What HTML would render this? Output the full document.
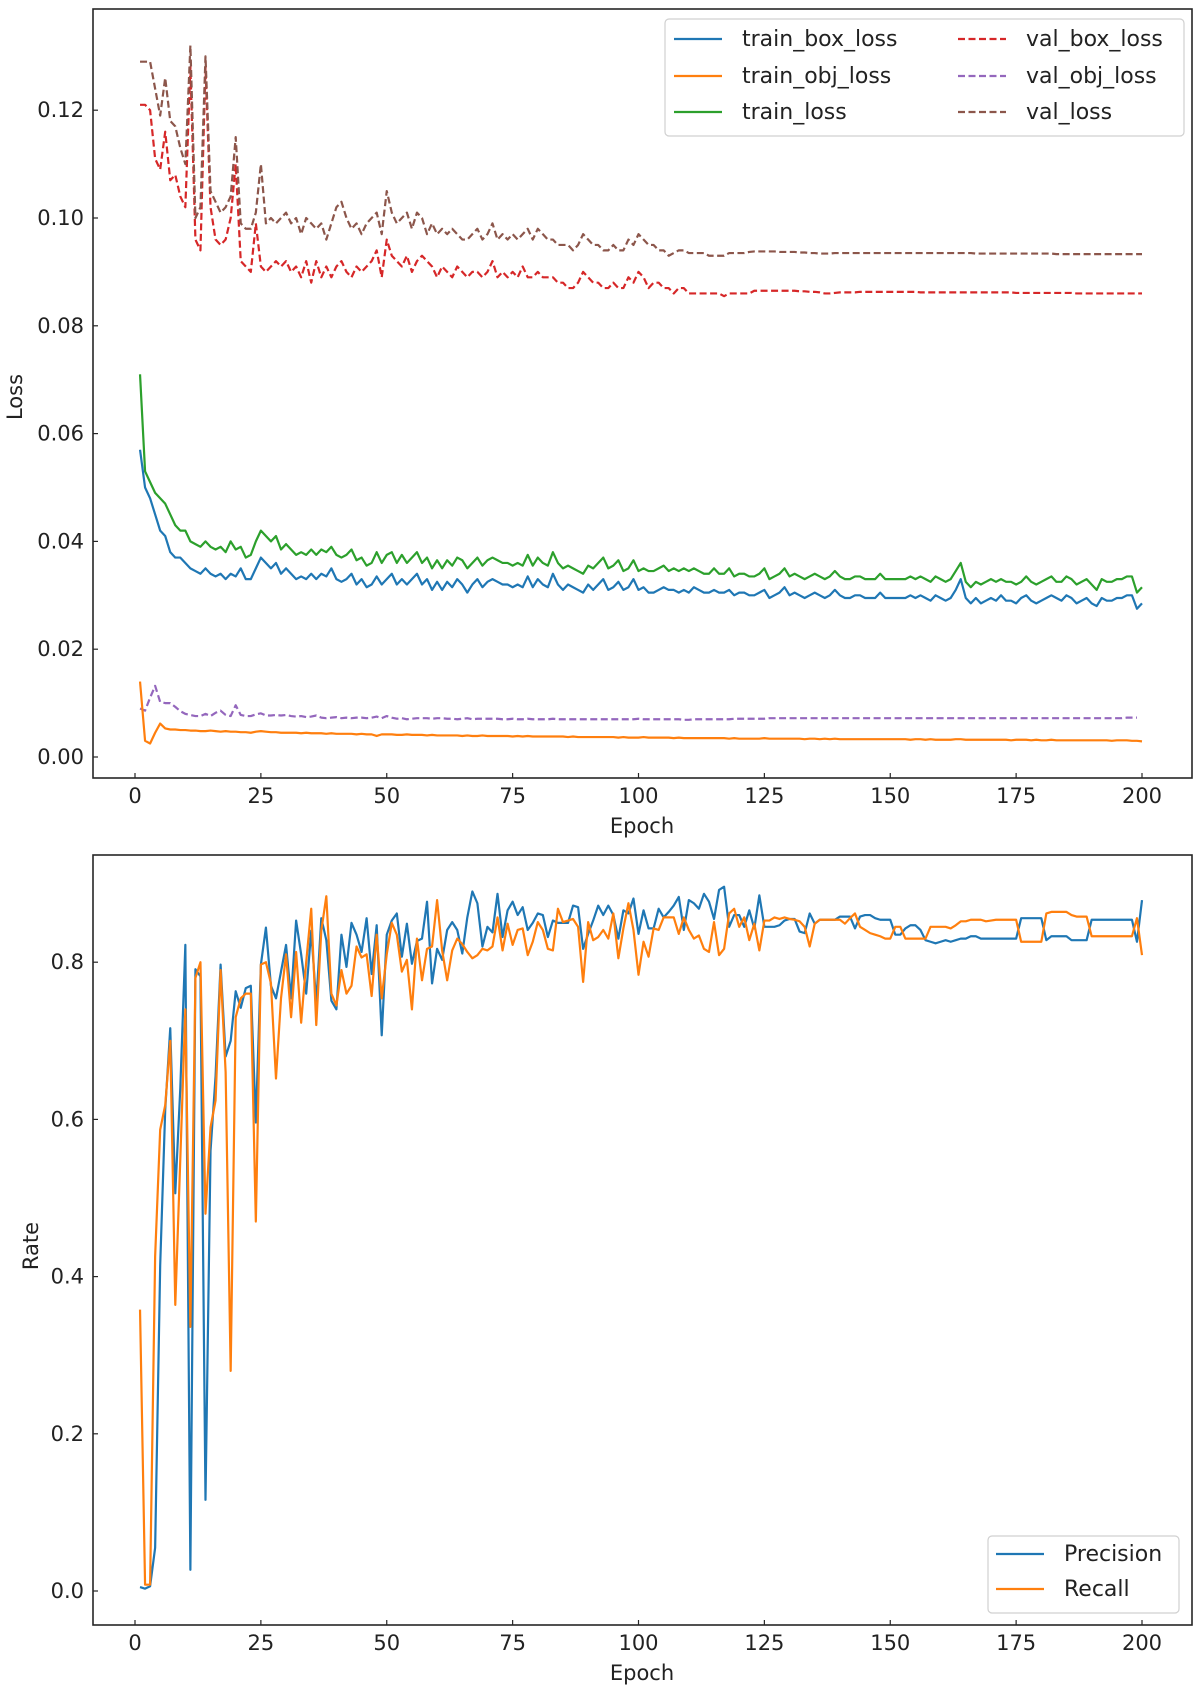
<!DOCTYPE html>
<html><head><meta charset="utf-8"><style>
html,body{margin:0;padding:0;background:#fff}
svg{display:block;font-family:"DejaVu Sans","Liberation Sans",sans-serif}
</style></head><body>
<svg id="chart" width="1200" height="1689" viewBox="0 0 1200 1689" xmlns="http://www.w3.org/2000/svg">
<rect x="0" y="0" width="1200" height="1689" fill="#fff"/>
<g id="topchart"></g>
<g id="botchart"></g>
</svg>
<script>
const epochTicks=[0,25,50,75,100,125,150,175,200];
const lossTicks=[0,20,40,60,80,100,120];
const lossTickLabels=["0.00","0.02","0.04","0.06","0.08","0.10","0.12"];
const rateTicks=[0,0.2,0.4,0.6,0.8];
const rateTickLabels=["0.0","0.2","0.4","0.6","0.8"];
// loss values in thousandths
const trainBox=[57,50,48,45,42,41,38,37,37,36,35,34.5,34,35,34,33.5,34,33,34,33.5,35,33,33,35,37,36,35,36,34,35,34,33,33.5,33,34,33,34,33.5,35,33,32.5,33,34,32,33,31.5,32,33.5,32,33,34,32,33,32,33,34,32,33,31,32.5,31,32.5,31.5,33,32,30.5,32,33,31.5,32.5,33,32.5,32,32,31.5,32,31.5,33.5,31.5,33,32,31.5,34,32,31,32,31.5,31,30.5,32,31,32,33,31,31.5,32.5,31,31.5,33,31,31.5,30.5,30.5,31,31.5,31,31,30.5,31,30.5,31.5,31,30.5,30.5,31,30.5,30.5,31,30,30.5,30.5,30,30,30.5,31,29.5,30,30.5,31.5,30,30.5,30,29.5,30,30.5,30,29.5,30,31,30,29.5,29.5,30,30,29.5,29.5,29.5,30.5,29.5,29.5,29.5,29.5,29.5,30,29.5,30,29.5,29,30,29.5,29,29.5,31,33,29.5,28.5,29.5,28.5,29,29.5,29,30,29,29,28.5,29.5,30,29,28.5,29,29.5,30,29.5,29,30,29.5,28.5,29,29.5,28.5,28,29.5,29,29,29.5,29.5,30,30,27.5,28.5];
const trainObj=[14,3,2.5,4.5,6.2,5.3,5.1,5.1,5.0,5.0,4.9,4.9,4.8,4.8,4.9,4.8,4.7,4.8,4.7,4.7,4.6,4.6,4.5,4.7,4.8,4.7,4.6,4.6,4.5,4.5,4.5,4.5,4.4,4.5,4.4,4.4,4.4,4.3,4.4,4.3,4.3,4.3,4.3,4.2,4.3,4.2,4.2,3.9,4.2,4.2,4.2,4.1,4.1,4.2,4.1,4.1,4.1,4.0,4.1,4.0,4.0,4.0,4.0,4.0,3.9,4.0,3.9,3.9,4.0,3.9,3.9,3.9,3.9,3.9,3.8,3.9,3.8,3.9,3.8,3.8,3.8,3.8,3.8,3.8,3.8,3.7,3.8,3.7,3.7,3.7,3.7,3.7,3.7,3.7,3.7,3.6,3.7,3.6,3.6,3.6,3.7,3.6,3.6,3.6,3.6,3.6,3.5,3.6,3.5,3.5,3.5,3.5,3.5,3.5,3.5,3.5,3.5,3.4,3.5,3.4,3.4,3.4,3.4,3.4,3.5,3.4,3.4,3.4,3.4,3.4,3.4,3.4,3.3,3.4,3.4,3.3,3.4,3.3,3.4,3.3,3.3,3.3,3.3,3.3,3.3,3.3,3.3,3.3,3.3,3.3,3.3,3.3,3.3,3.2,3.3,3.3,3.2,3.3,3.2,3.2,3.2,3.2,3.3,3.3,3.2,3.2,3.2,3.2,3.2,3.2,3.2,3.2,3.2,3.1,3.2,3.2,3.2,3.1,3.2,3.1,3.1,3.2,3.1,3.1,3.1,3.1,3.1,3.1,3.1,3.1,3.1,3.1,3.1,3.0,3.1,3.1,3.1,3.0,3.0,2.9];
const trainLoss=[71,53,51,49,48,47,45,43,42,42,40,39.5,39,40,39,38.5,39,38,40,38.5,39,37,37.5,40,42,41,40,41,38.5,39.5,38.5,37.5,38,37.5,38.5,37.5,38.5,38,39,37.5,37,37.5,38.5,36.5,37,35.5,36,38,36,37.5,38,36,37.5,36,37,38,36,37,35,36.5,35,36.5,35.5,37,36.5,35,36,37,35.5,36.5,37,36.5,36,36,35.5,36,35.5,37.5,35.5,37,36,35.5,38,36,35,35.5,35,34.5,34,35.5,35,36,37,35,35.5,36.5,34.5,35,36.5,34.5,35,34.5,34.5,35,35.5,34.5,35,34.5,35,34.5,35,34.5,34,34,35,34,34,35,33.5,34,34,33.5,33.5,34,35,33,33.5,34,35,33.5,34,33.5,33,33.5,34,33.5,33,33.5,34.5,33.5,33,33,33.5,33.5,33,33,33,34,33,33,33,33,33,33.5,33,33.5,33,32.5,33.5,33,32.5,33,34.5,36,32.5,31.5,32.5,32,32.5,33,32.5,33,32.5,32.5,32,32.5,33.5,32.5,32,32.5,33,33.5,32.5,32.5,33.5,33,32,32.5,33,32,31,33,32.5,32.5,33,33,33.5,33.5,30.5,31.5];
const valBox=[121,121,120,111,109,116,107,108,104,102,128,96,94,128,102,96,95,96,100,110,92,91,90,99,91,90,91,92,91,92,90,91,89,92,88,92,89,91,89,91,92,90,89,91,90,91,92,94,89,96,93,92,91,93,90,92,93,92,91,89,91,90,89,91,90,89,90,90,89,90,92,89,90,89,90,89,91,89,89,90,89,89,89,88,88,87,87,88,90,89,88,88,87,87,88,87,87,89,88,90,89,87,88,88,87,87,86,87,87,86,86,86,86,86,86,86,85.5,86,86,86,86,86,86.5,86.5,86.5,86.5,86.5,86.5,86.5,86.5,86.5,86.4,86.4,86.3,86.3,86.2,86.0,86.0,86.1,86.2,86.2,86.2,86.2,86.3,86.3,86.3,86.3,86.3,86.3,86.3,86.3,86.3,86.3,86.3,86.3,86.2,86.2,86.2,86.2,86.2,86.2,86.2,86.2,86.2,86.2,86.2,86.2,86.2,86.2,86.2,86.2,86.2,86.2,86.2,86.1,86.1,86.1,86.1,86.1,86.1,86.1,86.1,86.1,86.1,86.1,86.1,86.0,86.0,86.0,86.0,86.0,86.0,86.0,86.0,86.0,86.0,86.0,86.0,86.0,86.0];
const valObj=[9,8.6,11,13.2,10.2,10,10,9.3,8.5,8,7.8,7.6,7.6,8,7.6,8.2,8.6,7.8,7.6,9.6,7.8,7.6,7.6,7.9,8.1,7.7,7.7,7.8,7.7,7.8,7.6,7.5,7.6,7.4,7.5,7.7,7.3,7.2,7.3,7.4,7.2,7.3,7.2,7.3,7.3,7.2,7.3,7.5,7.2,7.6,7.3,7.1,7.2,7.0,7.1,7.2,7.2,7.2,7.1,7.2,7.2,7.1,7.1,7.0,7.1,7.2,7.0,7.1,7.1,7.1,7.1,7.1,7.0,7.0,7.1,7.0,7.0,7.1,7.0,7.0,7.0,7.0,7.1,7.0,7.0,7.0,7.0,7.0,7.0,7.0,7.0,7.0,7.0,7.0,7.0,7.0,7.0,7.0,7.0,7.1,7.0,7.0,7.0,7.0,7.0,7.0,7.0,7.0,6.9,6.9,7.0,7.0,7.0,7.0,7.0,7.0,7.0,7.0,7.1,7.1,7.1,7.1,7.1,7.1,7.1,7.2,7.2,7.2,7.2,7.2,7.2,7.2,7.2,7.2,7.2,7.2,7.2,7.2,7.2,7.2,7.2,7.2,7.2,7.2,7.2,7.2,7.2,7.2,7.2,7.2,7.2,7.2,7.2,7.2,7.2,7.2,7.2,7.2,7.2,7.2,7.2,7.2,7.2,7.2,7.2,7.2,7.2,7.2,7.2,7.2,7.2,7.2,7.2,7.2,7.2,7.2,7.2,7.2,7.2,7.2,7.2,7.2,7.2,7.2,7.2,7.2,7.2,7.2,7.2,7.2,7.2,7.2,7.2,7.2,7.2,7.2,7.3,7.3,7.3];
const valLoss=[129,129,129,124,119,126,118,117,113,110,132,100,102,130,105,103,101,102,104,115,99,98,98,101,110,99,100,99,100,101,99,100,97,100,99,98,99,96,99,102,103,100,98,99,97,99,100,101,97,105,101,99,100,101,98,101,100,97,99,97,98,97,98,97,96,96,97,98,96,97,99,96,97,96,97,96,97,98,96,98,97,96,96,95,95,95,94,95,97,96,95,95,94,94,95,94,94,96,95,97,96,95,95,94,94,93,93.5,94,94,93.5,93.5,93.5,93.5,93,93,93,93,93.5,93.5,93.5,93.5,93.7,93.8,93.8,93.8,93.8,93.8,93.7,93.7,93.7,93.7,93.6,93.6,93.5,93.5,93.4,93.4,93.4,93.5,93.5,93.5,93.5,93.5,93.5,93.5,93.5,93.5,93.5,93.5,93.5,93.5,93.5,93.5,93.5,93.5,93.5,93.5,93.5,93.5,93.5,93.5,93.5,93.5,93.5,93.5,93.5,93.4,93.4,93.4,93.4,93.4,93.4,93.4,93.4,93.4,93.4,93.4,93.4,93.4,93.4,93.4,93.4,93.3,93.3,93.3,93.3,93.3,93.3,93.3,93.3,93.3,93.3,93.3,93.3,93.3,93.3,93.3,93.3,93.3,93.3];
const precision=[0.005,0.003,0.006,0.055,0.414,0.612,0.716,0.506,0.64,0.822,0.027,0.791,0.782,0.116,0.56,0.655,0.797,0.68,0.70,0.763,0.742,0.767,0.77,0.596,0.797,0.844,0.77,0.754,0.788,0.822,0.754,0.853,0.81,0.76,0.84,0.748,0.856,0.828,0.751,0.74,0.835,0.794,0.85,0.835,0.813,0.856,0.785,0.847,0.707,0.835,0.853,0.862,0.807,0.849,0.798,0.827,0.83,0.877,0.773,0.817,0.803,0.841,0.851,0.841,0.811,0.857,0.89,0.875,0.82,0.845,0.838,0.887,0.832,0.866,0.877,0.86,0.87,0.841,0.85,0.862,0.86,0.832,0.853,0.85,0.85,0.85,0.872,0.87,0.817,0.836,0.853,0.872,0.86,0.872,0.86,0.83,0.866,0.862,0.881,0.836,0.866,0.843,0.843,0.868,0.857,0.864,0.872,0.883,0.841,0.879,0.875,0.868,0.887,0.877,0.855,0.892,0.896,0.845,0.86,0.86,0.845,0.866,0.843,0.885,0.845,0.845,0.845,0.847,0.853,0.855,0.855,0.839,0.837,0.862,0.849,0.854,0.854,0.854,0.854,0.858,0.858,0.858,0.843,0.858,0.860,0.860,0.856,0.854,0.854,0.854,0.835,0.835,0.843,0.847,0.847,0.841,0.828,0.826,0.824,0.826,0.828,0.826,0.828,0.830,0.830,0.833,0.833,0.830,0.830,0.830,0.830,0.830,0.830,0.830,0.830,0.856,0.856,0.856,0.856,0.856,0.828,0.833,0.833,0.833,0.833,0.828,0.828,0.828,0.828,0.854,0.854,0.854,0.854,0.854,0.854,0.854,0.854,0.854,0.826,0.879];
const recall=[0.358,0.008,0.008,0.426,0.587,0.618,0.70,0.364,0.55,0.74,0.336,0.78,0.80,0.48,0.59,0.624,0.79,0.66,0.28,0.73,0.754,0.76,0.76,0.47,0.797,0.80,0.773,0.652,0.754,0.81,0.73,0.813,0.723,0.80,0.868,0.72,0.84,0.884,0.76,0.745,0.79,0.76,0.77,0.82,0.806,0.81,0.757,0.835,0.754,0.81,0.85,0.835,0.788,0.803,0.74,0.83,0.777,0.817,0.82,0.879,0.815,0.777,0.815,0.83,0.823,0.813,0.805,0.809,0.817,0.815,0.82,0.857,0.815,0.849,0.822,0.841,0.843,0.809,0.826,0.851,0.841,0.817,0.815,0.868,0.851,0.853,0.855,0.845,0.775,0.851,0.828,0.832,0.841,0.83,0.862,0.805,0.843,0.875,0.841,0.784,0.826,0.807,0.843,0.841,0.857,0.857,0.857,0.836,0.857,0.841,0.83,0.834,0.817,0.813,0.851,0.809,0.817,0.862,0.868,0.845,0.857,0.828,0.849,0.815,0.853,0.853,0.857,0.855,0.857,0.855,0.854,0.852,0.845,0.820,0.849,0.854,0.854,0.854,0.854,0.854,0.849,0.856,0.862,0.845,0.841,0.837,0.835,0.833,0.830,0.830,0.845,0.845,0.830,0.830,0.830,0.830,0.830,0.845,0.845,0.845,0.845,0.843,0.847,0.852,0.852,0.854,0.854,0.854,0.852,0.853,0.854,0.854,0.854,0.854,0.854,0.826,0.826,0.826,0.826,0.826,0.862,0.864,0.864,0.864,0.864,0.860,0.858,0.858,0.858,0.833,0.833,0.833,0.833,0.833,0.833,0.833,0.833,0.833,0.856,0.809];

const NS="http://www.w3.org/2000/svg";
function mk(tag,attrs,parent){const e=document.createElementNS(NS,tag);for(const k in attrs)e.setAttribute(k,attrs[k]);parent.appendChild(e);return e;}
const X0=135,XS=5.035;
function xS(e){return X0+e*XS;}
function yLoss(v){return 757-v*5.39;}
function yRate(v){return 1591-v*786;}

function drawAxes(g,y0,y1,yTicks,yLabels,yFn,ylabel,ylabelY,xlabelY){
  mk('rect',{x:93,y:y0,width:1099,height:y1-y0,fill:'none',stroke:'#262626','stroke-width':1.6},g);
  epochTicks.forEach(t=>{
    const x=xS(t);
    const tk=mk('line',{x1:x,x2:x,y1:y1,y2:y1-5,stroke:'#262626','stroke-width':1.2},g);
    
    
    const tx=mk('text',{x:x,y:y1+25,'text-anchor':'middle','font-size':21,fill:'#222'},g);
    tx.textContent=t;
    
    
  });
  yTicks.forEach((t,i)=>{
    const y=yFn(t);
    const tk=mk('line',{x1:93,x2:98,y1:y,y2:y,stroke:'#262626','stroke-width':1.2},g);
    
    
    const tx=mk('text',{x:84,y:y+7,'text-anchor':'end','font-size':21,fill:'#222'},g);
    tx.textContent=yLabels[i];
    
    
  });
  const xl=mk('text',{x:642,y:xlabelY,'text-anchor':'middle','font-size':21,fill:'#222'},g);
  xl.textContent='Epoch';
  
  
  const yl=mk('text',{x:0,y:0,'text-anchor':'middle','font-size':21,fill:'#222',transform:`translate(${ylabel==='Loss'?22:38},${ylabelY}) rotate(-90)`},g);
  yl.textContent=ylabel;
  
  
}
function series(g,arr,yFn,color,dash,name){
  const pts=arr.map((v,i)=>xS(i+1).toFixed(2)+','+yFn(v).toFixed(2)).join(' ');
  const a={points:pts,fill:'none',stroke:color,'stroke-width':2.2,'stroke-linejoin':'round'};
  if(dash)a['stroke-dasharray']='7,3.5';
  const p=mk('polyline',a,g);
  
  
}
function legendEntry(g,x,y,color,dash,label,name){
  const a={x1:x,x2:x+48,y1:y,y2:y,stroke:color,'stroke-width':2.2};
  if(dash)a['stroke-dasharray']='7,3.5';
  mk('line',a,g);
  const t=mk('text',{x:x+68,y:y+7,'font-size':22,fill:'#222'},g);
  t.textContent=label;
  
  
}

const topG=document.getElementById('topchart');
drawAxes(topG,9,778,lossTicks,lossTickLabels,yLoss,'Loss',397,833);
series(topG,valBox,yLoss,'#d62728',true,'val-box-loss-line');
series(topG,valLoss,yLoss,'#8c564b',true,'val-loss-line');
series(topG,valObj,yLoss,'#9467bd',true,'val-obj-loss-line');
series(topG,trainObj,yLoss,'#ff7f0e',false,'train-obj-loss-line');
series(topG,trainLoss,yLoss,'#2ca02c',false,'train-loss-line');
series(topG,trainBox,yLoss,'#1f77b4',false,'train-box-loss-line');
const lg=mk('g',{},topG);


mk('rect',{x:665,y:19,width:519,height:117,rx:4,fill:'#fff','fill-opacity':0.85,stroke:'#d0d0d0','stroke-width':1.2},lg);
[[39,'#1f77b4',false,'train_box_loss',674],[76,'#ff7f0e',false,'train_obj_loss',674],[112,'#2ca02c',false,'train_loss',674],
 [39,'#d62728',true,'val_box_loss',958],[76,'#9467bd',true,'val_obj_loss',958],[112,'#8c564b',true,'val_loss',958]].forEach(r=>{
  const eg=mk('g',{},lg);
  legendEntry(eg,r[4],r[0],r[1],r[2],r[3],'legend-entry');
});

const botG=document.getElementById('botchart');
drawAxes(botG,855,1625,rateTicks,rateTickLabels,yRate,'Rate',1246,1680);
series(botG,precision,yRate,'#1f77b4',false,'precision-line');
series(botG,recall,yRate,'#ff7f0e',false,'recall-line');
const lg2=mk('g',{},botG);


mk('rect',{x:988,y:1536,width:191,height:77,rx:4,fill:'#fff','fill-opacity':0.85,stroke:'#d0d0d0','stroke-width':1.2},lg2);
[[1554,'#1f77b4','Precision'],[1589,'#ff7f0e','Recall']].forEach(r=>{
  const eg=mk('g',{},lg2);
  legendEntry(eg,996,r[0],r[1],false,r[2],'legend-entry');
});
</script>
</body></html>
